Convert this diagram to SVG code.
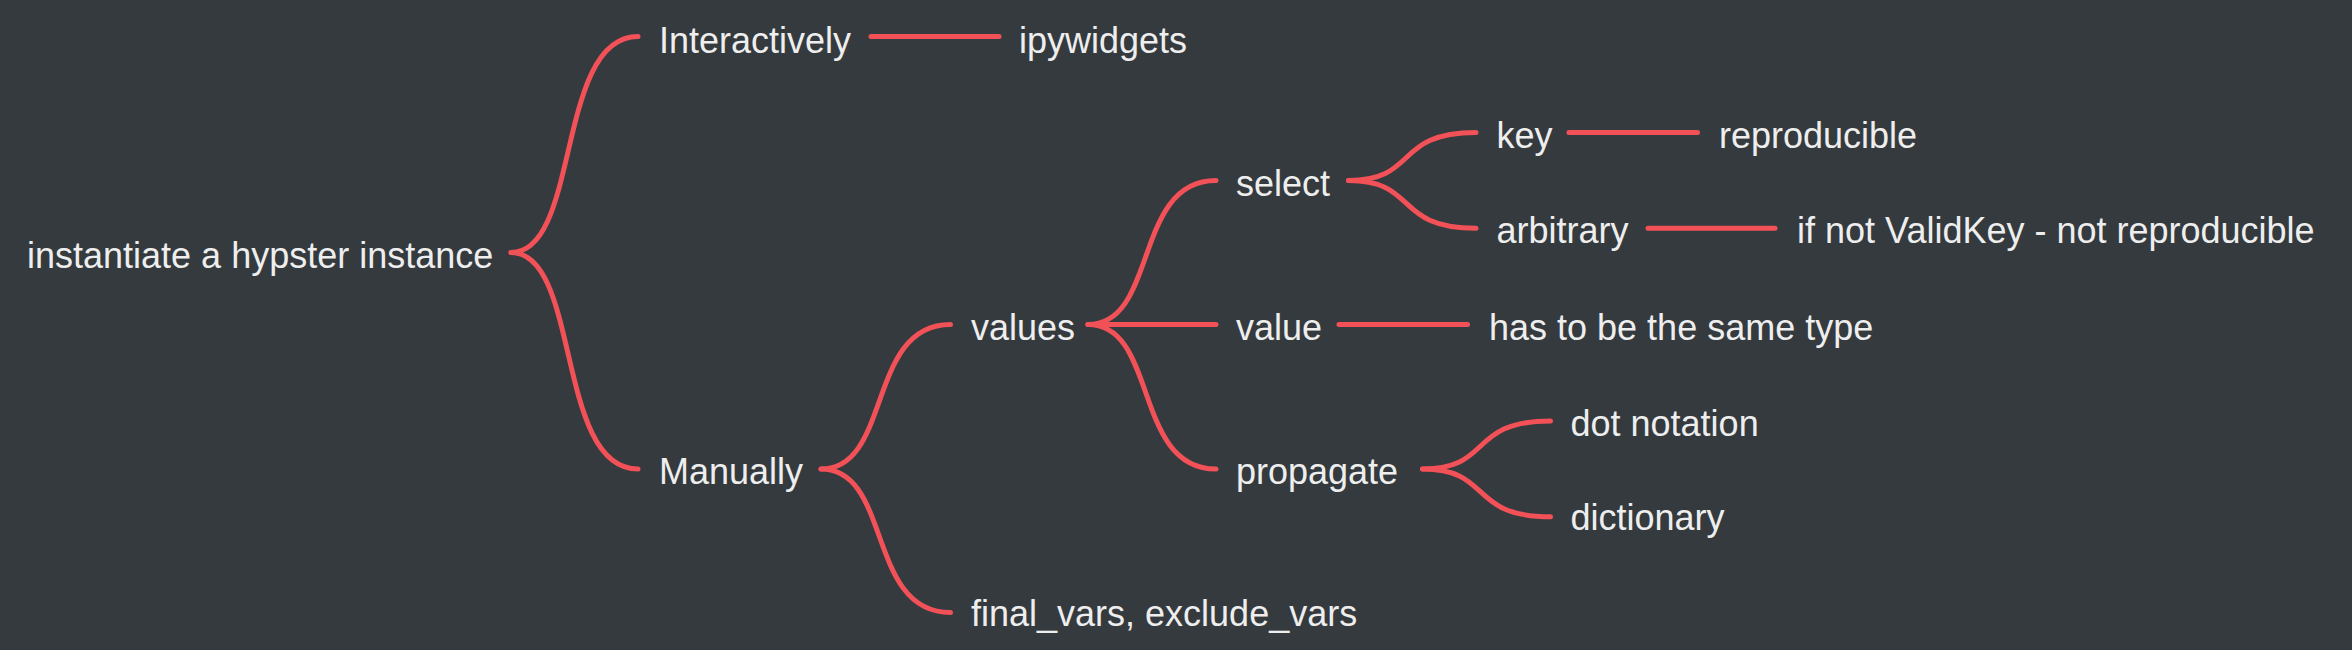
<svg xmlns="http://www.w3.org/2000/svg" width="2352" height="650" viewBox="0 0 2352 650">
<style>
.bg{fill:#343a3e}
.c{fill:none;stroke:#f25157;stroke-width:5;stroke-linecap:round}
.t{font-family:"Liberation Sans",Arial,sans-serif;font-size:36px;fill:#eeeeee}
</style>
<rect class="bg" x="0" y="0" width="2352" height="650"/>
<g id="connectors">
<path class="c" d="M511,252.5 C580.85,252.5 555.45,36.5 638,36.5"/>
<path class="c" d="M511,252.5 C580.85,252.5 555.45,469 638,469"/>
<path class="c" d="M871,36.5 L999,36.5"/>
<path class="c" d="M821,469 C892.2,469 866.3,324.5 950.5,324.5"/>
<path class="c" d="M821,469 C892.2,469 866.3,612.5 950.5,612.5"/>
<path class="c" d="M1088,324.5 C1158.4,324.5 1132.8,180.5 1216,180.5"/>
<path class="c" d="M1088,324.5 L1216,324.5"/>
<path class="c" d="M1088,324.5 C1158.4,324.5 1132.8,469 1216,469"/>
<path class="c" d="M1348.5,180.5 C1418.6,180.5 1393.1,132.5 1476,132.5"/>
<path class="c" d="M1348.5,180.5 C1418.6,180.5 1393.1,228.3 1476,228.3"/>
<path class="c" d="M1569,132.5 L1697.5,132.5"/>
<path class="c" d="M1648,228.3 L1775,228.3"/>
<path class="c" d="M1339,324.5 L1467.5,324.5"/>
<path class="c" d="M1422.5,469 C1492.9,469 1467.3,421 1550.5,421"/>
<path class="c" d="M1422.5,469 C1492.9,469 1467.3,516.8 1550.5,516.8"/>
</g>
<g id="root"><text class="t" x="27" y="267.5">instantiate a hypster instance</text></g>
<g id="interactively"><text class="t" x="659" y="52.7">Interactively</text></g>
<g id="ipywidgets"><text class="t" x="1019" y="52.5">ipywidgets</text></g>
<g id="manually"><text class="t" x="659" y="484">Manually</text></g>
<g id="values"><text class="t" x="971" y="340">values</text></g>
<g id="final_vars"><text class="t" x="971" y="626">final_vars, exclude_vars</text></g>
<g id="select"><text class="t" x="1236" y="196">select</text></g>
<g id="value"><text class="t" x="1236" y="340">value</text></g>
<g id="propagate"><text class="t" x="1236" y="484">propagate</text></g>
<g id="key"><text class="t" x="1496.5" y="147.5">key</text></g>
<g id="arbitrary"><text class="t" x="1496.5" y="243">arbitrary</text></g>
<g id="reproducible"><text class="t" x="1719" y="147.5">reproducible</text></g>
<g id="if_not_validkey"><text class="t" x="1797" y="243">if not ValidKey - not reproducible</text></g>
<g id="same_type"><text class="t" x="1489" y="340">has to be the same type</text></g>
<g id="dot_notation"><text class="t" x="1570.5" y="435.7">dot notation</text></g>
<g id="dictionary"><text class="t" x="1570.5" y="530">dictionary</text></g>
</svg>
